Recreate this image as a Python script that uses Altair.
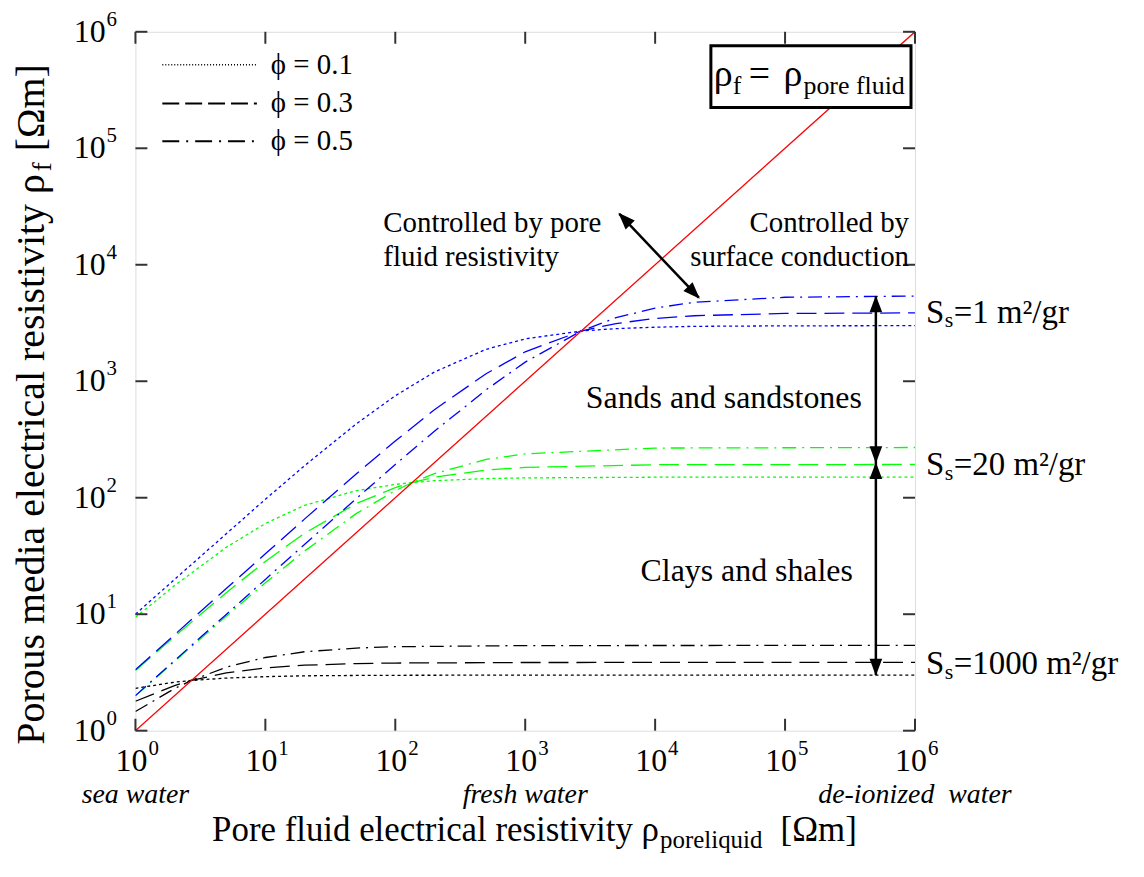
import altair as alt
import pandas as pd

# ---------------- data ----------------
phi_labels = ["ϕ = 0.1", "ϕ = 0.3", "ϕ = 0.5"]
ss_labels = ["Ss=1", "Ss=20", "Ss=1000"]
ss_colors = ["#0000ff", "#00ff00", "#000000"]

# Ss = 1 m2/gr (blue)
x_ss1 = [1, 2, 5, 10, 20, 50, 100, 200, 500, 1000, 2700, 5000, 10000, 20000, 100000, 1000000]
y_ss1_phi01 = [10, 19.9, 49, 97, 188, 430, 750, 1200, 1880, 2310, 2700, 2830, 2910, 2960, 2990, 3000]
y_ss1_phi03 = [3.33, 6.66, 16.6, 33, 65.5, 160, 307, 570, 1160, 1790, 2700, 3130, 3460, 3650, 3820, 3860]
y_ss1_phi05 = [2.0, 4.0, 9.96, 19.9, 39.7, 98, 193, 372, 844, 1460, 2700, 3510, 4250, 4760, 5260, 5390]

# Ss = 20 m2/gr (green)
x_ss20 = [1, 2, 5, 10, 20, 50, 100, 135, 200, 500, 1000, 10000, 1000000]
y_ss20_phi01 = [9.4, 17.6, 37.5, 60, 86, 115, 130, 135, 140, 146, 148, 150, 150]
y_ss20_phi03 = [3.28, 6.44, 15.3, 28.4, 49.5, 89, 122, 135, 150, 173, 182, 192, 193]
y_ss20_phi05 = [1.99, 3.94, 9.6, 18.6, 34.8, 73, 115, 135, 161, 213, 238, 267, 270]

# Ss = 1000 m2/gr (black)
x_ss1000 = [1, 2, 2.7, 5, 10, 20, 50, 100, 1000, 1000000]
y_ss1000_phi01 = [2.31, 2.61, 2.7, 2.83, 2.91, 2.96, 2.98, 2.99, 3.0, 3.0]
y_ss1000_phi03 = [1.79, 2.44, 2.7, 3.13, 3.46, 3.65, 3.77, 3.81, 3.85, 3.86]
y_ss1000_phi05 = [1.46, 2.30, 2.7, 3.51, 4.25, 4.76, 5.12, 5.26, 5.38, 5.40]

# identity line rho_f = rho_pore fluid
x_identity = [1, 1000000]
y_identity = [1, 1000000]

# axis decades
decades = [1, 10, 100, 1000, 10000, 100000, 1000000]
exponents = ["0", "1", "2", "3", "4", "5", "6"]

# water types under the x axis
water_x = [1, 1000, 1000000]
water_labels = ["sea water", "fresh water", "de-ionized\u00a0 water"]

# arrows (data coordinates)
diag_arrow_x = [5300, 21700]
diag_arrow_y = [27300, 5220]
vert_arrow_x = 500000
vert_arrow_y = [5400, 200, 3.0]

# ---------------- build tables ----------------
rows = []
groups = [
    ("Ss=1000", x_ss1000, [y_ss1000_phi01, y_ss1000_phi03, y_ss1000_phi05]),
    ("Ss=20", x_ss20, [y_ss20_phi01, y_ss20_phi03, y_ss20_phi05]),
    ("Ss=1", x_ss1, [y_ss1_phi01, y_ss1_phi03, y_ss1_phi05]),
]
for ss, xs, ylists in groups:
    for phi, ys in zip(phi_labels, ylists):
        for i, (xv, yv) in enumerate(zip(xs, ys)):
            rows.append({"x": xv, "y": yv, "ss": ss, "phi": phi, "order": i, "key": ss + phi})
curves = pd.DataFrame(rows)

W, H = 783, 702
FONT = "Liberation Serif, DejaVu Serif, serif"

xsc = alt.Scale(type="log", domain=[1, 1e6], nice=False)
ysc = alt.Scale(type="log", domain=[1, 1e6], nice=False)
X = lambda f="x": alt.X(f"{f}:Q", scale=xsc, axis=None)
Y = lambda f="y": alt.Y(f"{f}:Q", scale=ysc, axis=None)

color = alt.Color("ss:N", scale=alt.Scale(domain=ss_labels, range=ss_colors), legend=None)
dash = alt.StrokeDash("phi:N", scale=alt.Scale(domain=phi_labels,
                      range=[[3, 3], [20, 8], [14, 6, 2, 6]]), legend=None)

layers = []
for ss in ["Ss=1000", "Ss=20", "Ss=1"]:
    layers.append(
        alt.Chart(curves).transform_filter(alt.datum.ss == ss)
        .mark_line(strokeWidth=1.3, clip=True)
        .encode(x=X(), y=Y(), color=color, strokeDash=dash, detail="key:N", order="order:Q")
    )

ident = pd.DataFrame({"x": x_identity, "y": y_identity})
layers.append(alt.Chart(ident).mark_line(color="#ff0000", strokeWidth=1.3, clip=True)
              .encode(x=X(), y=Y()))

# ticks (inside, all four sides)
dec = pd.DataFrame({"v": decades, "e": exponents})
tick_style = dict(color="#333333", strokeWidth=2)
layers += [
    alt.Chart(dec).mark_rule(**tick_style).encode(x=X("v"), y=alt.value(H), y2=alt.value(H - 12)),
    alt.Chart(dec).mark_rule(**tick_style).encode(x=X("v"), y=alt.value(0), y2=alt.value(12)),
    alt.Chart(dec).mark_rule(**tick_style).encode(y=Y("v"), x=alt.value(0), x2=alt.value(12)),
    alt.Chart(dec).mark_rule(**tick_style).encode(y=Y("v"), x=alt.value(W), x2=alt.value(W - 12)),
]

# tick labels 10^n
layers += [
    alt.Chart(dec).mark_text(font=FONT, fontSize=32, align="right", baseline="middle", dx=-30)
    .encode(y=Y("v"), x=alt.value(0), text=alt.value("10")),
    alt.Chart(dec).mark_text(font=FONT, fontSize=21, align="left", baseline="middle", dx=-29, dy=-12)
    .encode(y=Y("v"), x=alt.value(0), text="e:N"),
    alt.Chart(dec).mark_text(font=FONT, fontSize=32, align="center", baseline="middle", dx=-4)
    .encode(x=X("v"), y=alt.value(H + 30), text=alt.value("10")),
    alt.Chart(dec).mark_text(font=FONT, fontSize=21, align="left", baseline="middle", dx=13, dy=-12)
    .encode(x=X("v"), y=alt.value(H + 30), text="e:N"),
]

water = pd.DataFrame({"x": water_x, "t": water_labels})
layers.append(alt.Chart(water).mark_text(font=FONT, fontSize=28, fontStyle="italic",
                                          align="center", baseline="middle")
              .encode(x=X(), y=alt.value(H + 65), text="t:N"))

def txt(t, x, y, size, align="left", baseline="middle", angle=0, style="normal"):
    return alt.Chart(pd.DataFrame({"t": [t]})).mark_text(
        font=FONT, fontSize=size, align=align, baseline=baseline, angle=angle, fontStyle=style,
        color="black").encode(x=alt.value(x), y=alt.value(y), text="t:N")

# x-axis title with subscript
layers += [
    txt("Pore fluid electrical resistivity ρ", 77, H + 111, 35, baseline="alphabetic"),
    txt("poreliquid", 527, H + 118, 25, baseline="alphabetic"),
    txt("[Ωm]", 648, H + 111, 35, baseline="alphabetic"),
]
# y-axis title (rotated) with subscript
layers += [
    txt("Porous media electrical resistivity ρ", -92, 716, 40, angle=270, baseline="alphabetic"),
    txt("f", -85, 140, 27, angle=270, baseline="alphabetic"),
    txt("[Ωm]", -92, 120, 40, angle=270, baseline="alphabetic"),
]

# legend (hand-built, inside plot)
leg_rows = [(33, [1, 2], 1.5), (72, [17, 6], 2), (110, [17, 7, 2, 7], 2)]
for (yy, d, sw), lab in zip(leg_rows, phi_labels):
    layers.append(alt.Chart(pd.DataFrame({"a": [0]})).mark_rule(color="black", strokeWidth=sw, strokeDash=d)
                  .encode(x=alt.value(27), x2=alt.value(122), y=alt.value(yy)))
    layers.append(txt(lab, 136, yy, 29))

# annotations
layers += [
    txt("Controlled by pore", 249, 192, 29),
    txt("fluid resistivity", 249, 226, 29),
    txt("Controlled by", 777, 192, 29, align="right"),
    txt("surface conduction", 777, 226, 29, align="right"),
    txt("Sands and sandstones", 591, 368, 32, align="center"),
    txt("Clays and shales", 614, 542, 32, align="center"),
]

# Ss labels at right
for yy, rest in [(282, "=1 m²/gr"), (435, "=20 m²/gr"), (635, "=1000 m²/gr")]:
    layers += [
        txt("S", 794, yy, 33),
        txt("s", 813, yy + 8, 22),
        txt(rest, 822, yy, 33),
    ]

# arrows
diag = pd.DataFrame({"x": [diag_arrow_x[0]], "y": [diag_arrow_y[0]],
                     "x2": [diag_arrow_x[1]], "y2": [diag_arrow_y[1]]})
layers.append(alt.Chart(diag).mark_rule(color="black", strokeWidth=2.5)
              .encode(x=X(), y=Y(), x2="x2:Q", y2="y2:Q"))
vert = pd.DataFrame({"x": [vert_arrow_x], "y": [vert_arrow_y[0]], "y2": [vert_arrow_y[2]]})
layers.append(alt.Chart(vert).mark_rule(color="black", strokeWidth=2.5)
              .encode(x=X(), y=Y(), y2="y2:Q"))

head_shape = "M0,-1L0.75,1L-0.75,1Z"
def heads(xs, ys, angle, xo, yo):
    return alt.Chart(pd.DataFrame({"x": xs, "y": ys})).mark_point(
        shape=head_shape, filled=True, size=290, color="black", opacity=1, angle=angle,
        xOffset=xo, yOffset=yo, strokeWidth=0).encode(x=X(), y=Y())

layers += [
    heads([diag_arrow_x[0]], [diag_arrow_y[0]], 316, 5, 5),
    heads([diag_arrow_x[1]], [diag_arrow_y[1]], 136, -5, -5),
    heads([vert_arrow_x, vert_arrow_x], [vert_arrow_y[0], vert_arrow_y[1]], 0, 0, 8),
    heads([vert_arrow_x, vert_arrow_x], [vert_arrow_y[1], vert_arrow_y[2]], 180, 0, -8),
]

# boxed equation
layers.append(alt.Chart(pd.DataFrame({"a": [0]})).mark_rect(fill="white", stroke="black", strokeWidth=3)
              .encode(x=alt.value(578), x2=alt.value(779), y=alt.value(14), y2=alt.value(76)))
layers += [
    txt("ρ", 581, 54, 38, baseline="alphabetic"),
    txt("f", 600, 62, 26, baseline="alphabetic"),
    txt("=", 616, 54, 38, baseline="alphabetic"),
    txt("ρ", 651, 54, 38, baseline="alphabetic"),
    txt("pore fluid", 671, 62, 26, baseline="alphabetic"),
]

chart = alt.layer(*layers).properties(
    width=W, height=H,
    padding={"left": 128, "top": 22, "right": 222, "bottom": 132},
    autosize=alt.AutoSizeParams(type="none"),
).configure_view(stroke="#222222", strokeWidth=2).configure(background="white")

chart.save("out.html", embed_options={"renderer": "svg", "actions": False})
